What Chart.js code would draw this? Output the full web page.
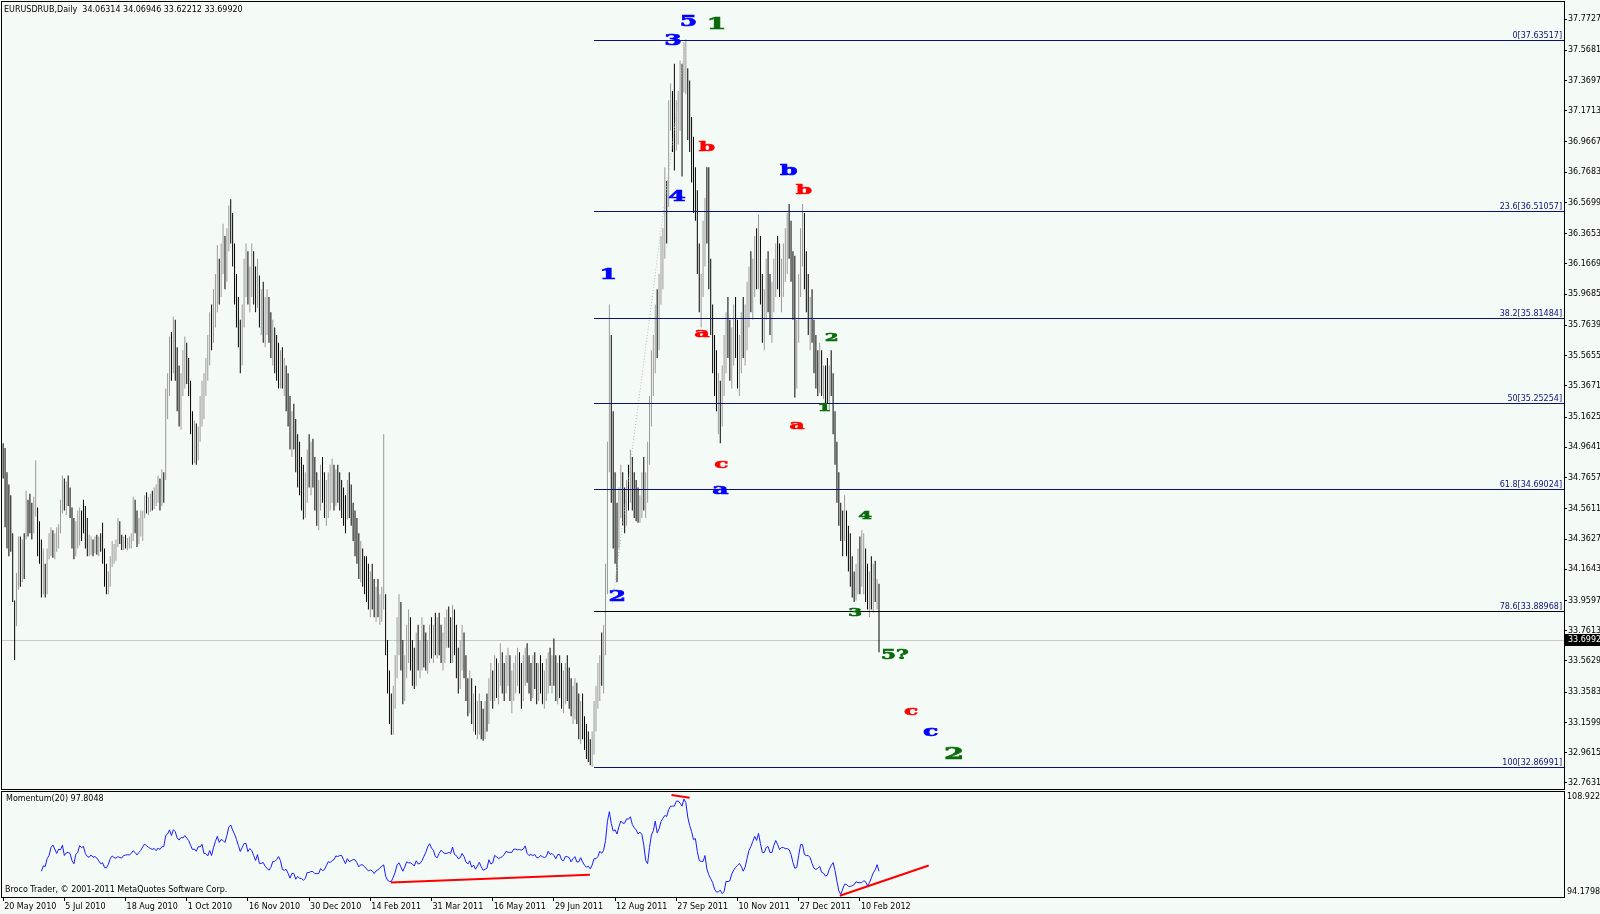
<!DOCTYPE html>
<html>
<head>
<meta charset="utf-8">
<title>EURUSDRUB, Daily</title>
<script src="https://cdn.jsdelivr.net/npm/chart.js@4.4.1/dist/chart.umd.min.js"></script>
<style>
  html, body { margin: 0; padding: 0; }
  body { width: 1600px; height: 914px; background: #f4fbf7; position: relative; overflow: hidden;
         font-family: "DejaVu Sans", sans-serif; font-size: 8px; color: #000; }
  canvas { position: absolute; left: 0; }
  #main { top: 0; }
  #mom { top: 782px; }
  .lbl { position: absolute; white-space: pre; line-height: 10px; z-index: 2; }
</style>
</head>
<body>
<canvas id="main" width="1600" height="791"></canvas>
<canvas id="mom" width="1600" height="132"></canvas>
<div class="lbl" style="left:4px;top:5px">EURUSDRUB,Daily  34.06314 34.06946 33.62212 33.69920</div>
<div class="lbl" style="left:6px;top:794px">Momentum(20) 97.8048</div>
<div class="lbl" style="left:5px;top:885px">Broco Trader, © 2001-2011 MetaQuotes Software Corp.</div>
<script>
// daily bars, one value per trading day (bar 0 = 20 May 2010)
var hi = [
  34.99,34.96,34.80,34.72,34.65,34.40,33.96,34.14,34.38,34.38,
  34.36,34.40,34.68,34.62,34.66,34.60,34.64,34.88,34.57,34.48,
  34.36,34.30,34.20,34.30,34.40,34.44,34.42,34.40,34.44,34.46,
  34.62,34.78,34.76,34.74,34.78,34.70,34.57,34.50,34.48,34.55,
  34.57,34.55,34.62,34.58,34.50,34.39,34.38,34.36,34.38,34.39,
  34.38,34.40,34.47,34.30,34.20,34.15,34.25,34.35,34.33,34.36,
  34.50,34.48,34.39,34.38,34.39,34.37,34.38,34.40,34.64,34.62,
  34.55,34.50,34.55,34.55,34.65,34.67,34.64,34.66,34.68,34.70,
  34.72,34.78,34.76,34.82,34.80,35.35,35.45,35.69,35.72,35.82,
  35.80,35.62,35.50,35.45,35.60,35.69,35.65,35.55,35.40,35.20,
  35.14,35.12,35.10,35.30,35.40,35.45,35.55,35.70,35.85,35.90,
  36.00,36.10,36.29,36.20,36.30,36.43,36.35,36.40,36.55,36.59,
  36.50,36.30,36.10,35.95,35.80,35.90,36.20,36.30,36.25,36.15,
  36.30,36.25,36.15,36.20,36.09,36.00,36.05,35.95,36.00,35.95,
  35.85,35.80,35.75,35.70,35.65,35.60,35.62,35.55,35.50,35.45,
  35.30,35.20,35.25,35.15,35.05,35.00,34.90,34.85,34.80,34.95,
  35.05,35.00,35.02,34.90,34.80,34.75,34.85,34.90,34.80,34.75,
  34.80,34.85,34.89,34.85,34.82,34.85,34.80,34.75,34.70,34.65,
  34.75,34.80,34.72,34.60,34.55,34.50,34.40,34.35,34.30,34.25,
  34.25,34.20,34.15,34.20,34.10,34.05,34.10,34.00,34.05,35.05,
  34.00,33.70,33.50,33.35,33.40,33.60,33.85,34.00,33.95,33.70,
  33.60,33.80,33.90,33.85,33.70,33.65,33.75,33.80,33.70,33.85,
  33.80,33.75,33.70,33.80,33.85,33.80,33.88,33.85,33.88,33.80,
  33.75,33.85,33.90,33.92,33.85,33.93,33.90,33.80,33.65,33.70,
  33.80,33.75,33.60,33.45,33.50,33.45,33.35,33.40,33.30,33.35,
  33.30,33.25,33.30,33.35,33.45,33.55,33.50,33.60,33.58,33.55,
  33.68,33.62,33.55,33.60,33.65,33.60,33.50,33.55,33.60,33.65,
  33.62,33.55,33.60,33.65,33.68,33.60,33.55,33.60,33.62,33.55,
  33.55,33.60,33.55,33.50,33.58,33.62,33.65,33.60,33.71,33.60,
  33.55,33.60,33.55,33.50,33.55,33.60,33.52,33.45,33.40,33.45,
  33.42,33.35,33.30,33.35,33.20,33.15,33.10,33.05,33.10,33.30,
  33.40,33.55,33.60,33.75,33.80,34.20,35.00,35.90,35.70,35.20,
  34.80,34.60,34.70,34.85,34.80,34.70,34.75,34.85,34.95,34.90,
  34.80,34.75,34.70,34.65,34.80,34.90,34.80,35.00,35.30,35.60,
  35.70,35.90,36.00,36.10,36.35,36.40,36.80,36.71,37.24,37.35,
  37.30,37.48,37.24,37.30,37.50,37.48,37.62,37.64,37.45,37.37,
  37.13,37.00,36.80,36.65,36.30,36.10,36.45,36.60,36.80,36.80,
  36.20,35.90,35.70,35.60,35.45,35.40,35.50,35.70,35.85,35.95,
  35.80,35.75,35.90,35.95,35.80,35.70,35.85,35.95,35.90,36.05,
  36.15,36.25,36.20,36.35,36.40,36.49,36.35,36.10,36.00,36.20,
  36.25,36.10,36.05,36.20,36.30,36.35,36.30,36.20,36.30,36.40,
  36.50,36.56,36.45,36.25,36.22,35.80,36.10,36.40,36.56,36.50,
  36.25,36.10,35.95,36.00,35.80,35.70,35.60,35.65,35.60,35.50,
  35.50,35.55,35.50,35.60,35.45,35.20,35.00,34.80,34.60,34.55,
  34.65,34.55,34.45,34.40,34.25,34.15,34.20,34.30,34.38,34.42,
  34.40,34.30,34.20,34.15,34.25,34.20,34.22,34.10,34.07
];
var lo = [
  34.76,34.44,34.30,34.25,34.28,33.95,33.57,33.79,34.03,34.05,
  34.08,34.10,34.36,34.38,34.40,34.36,34.40,34.51,34.25,34.20,
  33.98,34.00,33.98,34.00,34.23,34.25,34.24,34.23,34.28,34.30,
  34.40,34.53,34.55,34.52,34.58,34.50,34.30,34.23,34.25,34.30,
  34.32,34.35,34.40,34.30,34.25,34.25,34.26,34.25,34.27,34.26,
  34.25,34.28,34.20,34.05,34.00,34.00,34.05,34.18,34.20,34.22,
  34.31,34.33,34.29,34.29,34.30,34.29,34.30,34.30,34.35,34.40,
  34.31,34.33,34.38,34.35,34.50,34.53,34.52,34.54,34.55,34.56,
  34.58,34.60,34.55,34.58,34.60,34.75,35.15,35.30,35.40,35.45,
  35.40,35.20,35.10,35.08,35.30,35.35,35.38,35.30,35.05,34.85,
  34.86,34.85,34.88,35.00,35.10,35.15,35.30,35.40,35.50,35.60,
  35.65,35.75,35.85,35.90,35.95,36.10,36.00,36.05,36.25,36.30,
  36.15,35.90,35.75,35.62,35.45,35.50,35.75,35.95,35.90,35.85,
  35.95,35.90,35.85,35.88,35.75,35.70,35.65,35.62,35.70,35.65,
  35.55,35.50,35.45,35.40,35.35,35.35,35.35,35.30,35.20,35.10,
  34.95,34.90,34.95,34.80,34.70,34.65,34.55,34.49,34.50,34.60,
  34.70,34.65,34.70,34.55,34.45,34.42,34.55,34.60,34.50,34.45,
  34.50,34.55,34.60,34.55,34.58,34.60,34.55,34.50,34.45,34.40,
  34.49,34.50,34.45,34.35,34.25,34.20,34.10,34.08,34.05,34.00,
  33.95,33.90,33.85,33.90,33.85,33.82,33.85,33.80,33.82,33.90,
  33.60,33.35,33.15,33.08,33.08,33.25,33.45,33.60,33.50,33.28,
  33.30,33.45,33.55,33.50,33.40,33.38,33.40,33.50,33.45,33.50,
  33.52,33.50,33.48,33.55,33.58,33.55,33.60,33.58,33.60,33.55,
  33.50,33.55,33.65,33.65,33.55,33.55,33.60,33.45,33.35,33.38,
  33.50,33.45,33.30,33.20,33.22,33.15,33.10,33.08,33.05,33.08,
  33.05,33.04,33.05,33.10,33.15,33.30,33.25,33.30,33.32,33.28,
  33.40,33.35,33.30,33.35,33.40,33.30,33.22,33.30,33.35,33.40,
  33.35,33.25,33.30,33.40,33.42,33.35,33.30,33.32,33.38,33.28,
  33.30,33.35,33.28,33.25,33.30,33.35,33.40,33.35,33.40,33.30,
  33.28,33.32,33.25,33.22,33.28,33.30,33.25,33.20,33.15,33.18,
  33.15,33.05,33.02,33.05,32.98,32.92,32.90,32.88,32.87,32.95,
  33.10,33.25,33.30,33.40,33.35,33.60,34.00,34.80,34.60,34.30,
  34.20,34.08,34.30,34.50,34.45,34.40,34.45,34.55,34.60,34.55,
  34.50,34.48,34.47,34.47,34.50,34.55,34.50,34.60,34.85,35.10,
  35.30,35.45,35.55,35.60,35.90,36.00,36.20,36.30,36.54,37.04,
  36.90,36.78,36.91,36.95,37.04,36.74,37.29,37.28,36.98,36.90,
  36.70,36.50,36.45,36.10,35.85,35.75,35.95,36.15,36.30,36.00,
  35.70,35.45,35.30,35.20,35.05,34.99,35.10,35.30,35.45,35.55,
  35.40,35.35,35.50,35.55,35.35,35.30,35.45,35.55,35.50,35.60,
  35.75,35.85,35.80,35.95,36.00,36.00,35.90,35.65,35.60,35.80,
  35.85,35.70,35.65,35.85,35.95,36.00,35.95,35.85,35.95,36.05,
  36.10,36.20,36.05,35.80,35.29,35.35,35.65,35.95,36.15,36.00,
  35.85,35.70,35.60,35.65,35.45,35.35,35.30,35.32,35.30,35.28,
  35.25,35.25,35.20,35.30,35.05,34.85,34.60,34.45,34.35,34.25,
  34.35,34.25,34.15,34.05,33.98,33.95,33.96,34.00,34.00,34.05,
  34.00,33.95,33.90,33.85,33.90,33.88,33.95,33.90,33.62
];
var cl = [
  34.80,34.60,34.55,34.40,34.35,34.00,33.80,34.05,34.30,34.12,
  34.30,34.20,34.60,34.55,34.50,34.45,34.60,34.70,34.35,34.30,
  34.03,34.10,34.02,34.25,34.35,34.38,34.30,34.36,34.40,34.42,
  34.58,34.70,34.60,34.68,34.65,34.55,34.35,34.30,34.40,34.45,
  34.50,34.48,34.45,34.35,34.30,34.30,34.33,34.28,34.35,34.30,
  34.32,34.30,34.25,34.10,34.05,34.12,34.20,34.28,34.30,34.32,
  34.45,34.38,34.33,34.35,34.32,34.34,34.36,34.38,34.58,34.45,
  34.35,34.45,34.50,34.52,34.60,34.58,34.60,34.62,34.60,34.66,
  34.68,34.74,34.62,34.78,34.75,35.30,35.40,35.62,35.55,35.70,
  35.50,35.30,35.25,35.40,35.45,35.55,35.45,35.35,35.10,34.95,
  35.00,34.95,35.05,35.20,35.30,35.40,35.50,35.60,35.80,35.70,
  35.90,36.00,36.20,36.05,36.25,36.30,36.10,36.35,36.50,36.45,
  36.25,36.00,35.85,35.70,35.50,35.80,36.10,36.20,36.00,36.05,
  36.15,36.00,35.95,36.10,35.85,35.90,35.75,35.80,35.85,35.70,
  35.65,35.70,35.55,35.50,35.45,35.55,35.40,35.45,35.30,35.15,
  35.00,35.10,35.05,34.90,34.80,34.75,34.60,34.55,34.70,34.85,
  34.80,34.90,34.75,34.60,34.55,34.65,34.75,34.70,34.60,34.65,
  34.70,34.75,34.80,34.70,34.78,34.70,34.60,34.55,34.50,34.45,
  34.65,34.60,34.50,34.40,34.35,34.30,34.20,34.25,34.15,34.10,
  34.05,34.00,34.10,33.95,33.90,33.95,33.90,33.95,33.98,34.00,
  33.65,33.40,33.25,33.15,33.30,33.50,33.75,33.90,33.60,33.35,
  33.50,33.70,33.75,33.60,33.50,33.45,33.65,33.55,33.60,33.75,
  33.60,33.55,33.65,33.70,33.65,33.75,33.70,33.80,33.70,33.60,
  33.65,33.80,33.85,33.75,33.60,33.85,33.70,33.55,33.45,33.65,
  33.70,33.50,33.35,33.30,33.40,33.20,33.25,33.15,33.20,33.28,
  33.12,33.10,33.20,33.15,33.40,33.45,33.35,33.55,33.40,33.50,
  33.60,33.45,33.40,33.50,33.55,33.35,33.40,33.45,33.50,33.55,
  33.40,33.35,33.50,33.60,33.50,33.45,33.40,33.55,33.45,33.40,
  33.50,33.45,33.35,33.40,33.50,33.55,33.45,33.55,33.50,33.40,
  33.45,33.40,33.30,33.35,33.45,33.40,33.30,33.25,33.30,33.35,
  33.20,33.15,33.25,33.10,33.05,33.00,32.95,32.92,33.05,33.25,
  33.30,33.35,33.50,33.45,33.70,34.10,34.90,35.30,34.80,34.50,
  34.40,34.15,34.60,34.70,34.55,34.50,34.65,34.60,34.85,34.70,
  34.60,34.55,34.52,34.55,34.70,34.60,34.65,34.90,35.20,35.50,
  35.60,35.80,35.70,36.00,36.20,36.30,36.60,36.50,37.10,37.10,
  37.00,36.95,37.15,37.20,37.25,37.00,37.40,37.50,37.10,37.00,
  36.80,36.60,36.55,36.20,35.95,36.00,36.30,36.50,36.40,36.10,
  35.80,35.55,35.40,35.30,35.35,35.20,35.40,35.60,35.75,35.65,
  35.50,35.65,35.80,35.60,35.45,35.60,35.75,35.70,35.80,35.95,
  36.05,36.00,36.10,36.25,36.10,36.30,36.00,35.75,35.90,36.05,
  35.95,35.80,35.95,36.10,36.20,36.15,36.05,36.10,36.20,36.30,
  36.40,36.30,36.15,35.90,35.45,35.70,36.00,36.30,36.45,36.10,
  35.95,35.80,35.85,35.70,35.55,35.45,35.40,35.55,35.35,35.40,
  35.35,35.30,35.45,35.40,35.10,34.95,34.70,34.50,34.46,34.40,
  34.50,34.35,34.30,34.15,34.05,34.00,34.10,34.20,34.00,34.05,
  34.10,34.00,33.95,34.05,34.00,34.10,34.00,34.06,33.6992
];

var dateLabels = ['20 May 2010', '5 Jul 2010', '18 Aug 2010', '1 Oct 2010', '16 Nov 2010',
  '30 Dec 2010', '14 Feb 2011', '31 Mar 2011', '16 May 2011', '29 Jun 2011',
  '12 Aug 2011', '27 Sep 2011', '10 Nov 2011', '27 Dec 2011', '10 Feb 2012'];
var dateIdx = [0, 32, 64, 96, 128, 160, 192, 224, 256, 288, 320, 352, 384, 416, 448];

var priceTicks = [37.7727, 37.5681, 37.3697, 37.1713, 36.9667, 36.7683, 36.5699, 36.3653,
  36.1669, 35.9685, 35.7639, 35.5655, 35.3671, 35.1625, 34.9641, 34.7657, 34.5611,
  34.3627, 34.1643, 33.9597, 33.7613, 33.5629, 33.3583, 33.1599, 32.9615, 32.7631];
var momTicks = [108.922, 94.1798];

// fibonacci retracement drawn from the Jul 2011 low
var fibLevels = ['0', '23.6', '38.2', '50', '61.8', '78.6', '100'];
var fibPrices = [37.63517, 36.51057, 35.81484, 35.25254, 34.69024, 33.88968, 32.86991];
var fibFrom = 309;

// wave marks: text, bar index, price
var waveText  = ['5', '3', '4', '1', '2', 'b', 'a', 'c',
                 '1', '2', '2', '1', '4', '3', '5?',
                 'b', 'b', 'a', 'a', 'c', 'c'];
var waveIdx   = [358.4, 350.3, 352.4, 316.4, 321.2, 410.8, 375.1, 485.0,
                 373.0, 497.2, 433.2, 429.5, 450.8, 445.5, 466.3,
                 368.0, 418.8, 365.5, 415.1, 375.6, 474.8];
var wavePrice = [37.753, 37.625, 36.605, 36.091, 33.983, 36.773, 34.679, 33.093,
                 37.733, 32.946, 35.683, 35.221, 34.512, 33.876, 33.595,
                 36.930, 36.646, 35.709, 35.107, 34.853, 33.234];

// momentum trend lines [idx1, val1, idx2, val2]
var momLines = [[202.7, 96.2, 306.8, 97.3], [349.5, 108.5, 359.0, 108.1], [437.5, 94.35, 484.0, 98.6]];
// dotted line on the price chart
var dotLine = [318.5, 33.94, 357.0, 37.63];

// ---- styles ----
var waveColor = ['#0000ff','#0000ff','#0000ff','#0000ff','#0000ff','#0000ff','#0000ff','#0000ff',
                 '#0b6b0b','#0b6b0b','#0b6b0b','#0b6b0b','#0b6b0b','#0b6b0b','#0b6b0b',
                 '#ff0000','#ff0000','#ff0000','#ff0000','#ff0000','#ff0000'];
var waveSize  = [14,14,14,14,14,14,14,14, 16,16,11,11,11,11,12, 13,13,13,13,13,13];
var fibColor  = ['#101070','#101070','#101070','#101070','#101070','#000000','#101070'];

var X_MIN = -0.6, X_MAX = 816.2;
var FONT = '"DejaVu Sans", sans-serif';
Chart.defaults.font.family = FONT;
Chart.defaults.font.size = 8;
Chart.defaults.color = '#000';

var bars = hi.map(function (h, i) { return {x: i, y: [lo[i], h]}; });
var barColors = cl.map(function (c, i) { return (i > 0 && c >= cl[i - 1]) ? '#9a9a9a' : '#000000'; });

var mom = [];
for (var i = 20; i < cl.length; i++) mom.push({x: i, y: cl[i] / cl[i - 20] * 100});

function fixWidth(s) { s.width = 36; s.paddingTop = 0; s.paddingBottom = 0; }

function drawWave(ctx, txt, x, y, size, color) {
  ctx.save();
  ctx.translate(x, y);
  ctx.scale(1.8, 1);
  ctx.font = 'bold ' + size + 'px "DejaVu Serif", serif';
  ctx.fillStyle = color;
  ctx.strokeStyle = color;
  ctx.lineWidth = 0.6;
  ctx.textAlign = 'center';
  ctx.textBaseline = 'middle';
  ctx.fillText(txt, 0, 0);
  ctx.strokeText(txt, 0, 0);
  ctx.restore();
}

var mainDecor = {
  id: 'mainDecor',
  beforeDatasetsDraw: function (chart) {
    var ctx = chart.ctx, a = chart.chartArea, y = chart.scales.y;
    var yb = Math.round(y.getPixelForValue(cl[cl.length - 1])) + 0.5;
    ctx.save();
    ctx.strokeStyle = '#c8c8c8';
    ctx.lineWidth = 1;
    ctx.beginPath(); ctx.moveTo(a.left, yb); ctx.lineTo(a.right, yb); ctx.stroke();
    ctx.restore();
  },
  afterDatasetsDraw: function (chart) {
    var ctx = chart.ctx, a = chart.chartArea, x = chart.scales.x, y = chart.scales.y;
    ctx.save();
    // dotted line
    ctx.strokeStyle = '#b8b8b8';
    ctx.setLineDash([1, 2]);
    ctx.beginPath();
    ctx.moveTo(x.getPixelForValue(dotLine[0]), y.getPixelForValue(dotLine[1]));
    ctx.lineTo(x.getPixelForValue(dotLine[2]), y.getPixelForValue(dotLine[3]));
    ctx.stroke();
    ctx.setLineDash([]);
    // fibo levels
    var x0 = x.getPixelForValue(fibFrom);
    ctx.font = '8px ' + FONT;
    ctx.textAlign = 'right';
    ctx.textBaseline = 'bottom';
    fibPrices.forEach(function (p, k) {
      var yy = Math.round(y.getPixelForValue(p)) + 0.5;
      ctx.strokeStyle = fibColor[k];
      ctx.beginPath(); ctx.moveTo(x0, yy); ctx.lineTo(a.right, yy); ctx.stroke();
      ctx.fillStyle = '#101070';
      ctx.fillText(fibLevels[k] + '[' + p.toFixed(5) + ']', a.right - 2, yy - 1);
    });
    // wave marks
    waveText.forEach(function (t, k) {
      drawWave(ctx, t, x.getPixelForValue(waveIdx[k]), y.getPixelForValue(wavePrice[k]), waveSize[k], waveColor[k]);
    });
    ctx.restore();
  },
  afterDraw: function (chart) {
    var ctx = chart.ctx, a = chart.chartArea, y = chart.scales.y;
    ctx.save();
    ctx.strokeStyle = '#000';
    ctx.lineWidth = 1;
    ctx.strokeRect(a.left - 0.5, a.top - 0.5, a.right - a.left + 1, a.bottom - a.top + 1);
    ctx.font = '8px ' + FONT;
    ctx.textAlign = 'left';
    ctx.textBaseline = 'middle';
    // tick labels that fall under the panel edge
    priceTicks.forEach(function (v) {
      if (v < y.min) { ctx.fillStyle = '#000'; ctx.fillText(v.toFixed(4), a.right + 4, a.bottom - 3); }
    });
    // last price box
    var last = cl[cl.length - 1];
    var yp = Math.round(y.getPixelForValue(last));
    ctx.fillStyle = '#000';
    ctx.fillRect(a.right + 1, yp - 6, 36, 12);
    ctx.fillStyle = '#fff';
    ctx.fillText(last.toFixed(4), a.right + 4, yp);
    ctx.restore();
  }
};

new Chart(document.getElementById('main'), {
  type: 'bar',
  data: {
    datasets: [{
      data: bars,
      backgroundColor: barColors,
      barThickness: 1,
      borderWidth: 0,
      inflateAmount: 0,
      grouped: false
    }]
  },
  options: {
    responsive: false,
    animation: false,
    layout: {padding: {left: 2, top: 2, right: 0, bottom: 2}},
    plugins: {legend: {display: false}, tooltip: {enabled: false}},
    scales: {
      x: {type: 'linear', min: X_MIN, max: X_MAX, offset: false, display: false},
      y: {
        position: 'right', min: 32.7235, max: 37.8842, beginAtZero: false,
        afterBuildTicks: function (s) {
          s.ticks = priceTicks.filter(function (v) { return v >= s.min && v <= s.max; })
                              .map(function (v) { return {value: v}; });
        },
        afterFit: fixWidth,
        grid: {drawOnChartArea: false, drawTicks: true, tickLength: 3, color: '#000'},
        border: {color: '#000'},
        ticks: {autoSkip: false, padding: 1, callback: function (v) { return v.toFixed(4); }}
      }
    }
  },
  plugins: [mainDecor]
});

var momDecor = {
  id: 'momDecor',
  afterDraw: function (chart) {
    var ctx = chart.ctx, a = chart.chartArea;
    ctx.save();
    ctx.strokeStyle = '#000';
    ctx.lineWidth = 1;
    ctx.strokeRect(a.left - 0.5, a.top - 0.5, a.right - a.left + 1, a.bottom - a.top + 1);
    ctx.font = '8px ' + FONT;
    ctx.fillStyle = '#000';
    ctx.textAlign = 'left';
    ctx.textBaseline = 'top';
    ctx.fillText(String(momTicks[0]), a.right + 3, a.top + 1);
    ctx.textBaseline = 'bottom';
    ctx.fillText(String(momTicks[1]), a.right + 3, a.bottom - 1);
    ctx.restore();
  }
};

var momSets = [{data: mom, borderColor: '#1a1aff', borderWidth: 1, pointRadius: 0, tension: 0}];
momLines.forEach(function (l) {
  momSets.push({data: [{x: l[0], y: l[1]}, {x: l[2], y: l[3]}], borderColor: '#ff0000',
                borderWidth: 2, pointRadius: 0});
});

new Chart(document.getElementById('mom'), {
  type: 'line',
  data: {datasets: momSets},
  options: {
    responsive: false,
    animation: false,
    layout: {padding: {left: 2, top: 10, right: 0, bottom: 0}},
    plugins: {legend: {display: false}, tooltip: {enabled: false}},
    scales: {
      x: {
        type: 'linear', min: X_MIN, max: X_MAX, offset: false,
        afterBuildTicks: function (s) { s.ticks = dateIdx.map(function (v) { return {value: v}; }); },
        afterFit: function (s) { s.height = 17; },
        grid: {drawOnChartArea: false, drawTicks: true, tickLength: 4, color: '#000'},
        border: {color: '#000'},
        ticks: {autoSkip: false, maxRotation: 0, align: 'start', labelOffset: 1, padding: 1,
                callback: function (v, i) { return dateLabels[i]; }}
      },
      y: {
        position: 'right', min: momTicks[1], max: momTicks[0],
        afterBuildTicks: function (s) { s.ticks = momTicks.map(function (v) { return {value: v}; }); },
        afterFit: fixWidth,
        grid: {drawOnChartArea: false, drawTicks: false},
        border: {color: '#000'},
        ticks: {display: false}
      }
    }
  },
  plugins: [momDecor]
});
</script>
</body>
</html>
